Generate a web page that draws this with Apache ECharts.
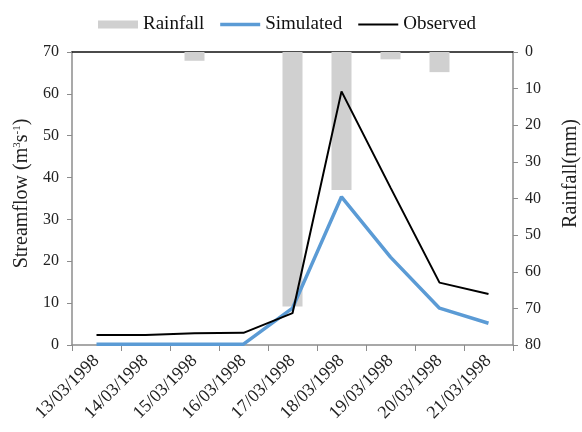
<!DOCTYPE html>
<html>
<head>
<meta charset="UTF-8">
<title>Streamflow</title>
<script src="https://cdn.jsdelivr.net/npm/echarts@6/dist/echarts.min.js"></script>
<style>html,body{margin:0;padding:0;background:#fff}</style>
</head>
<body>
<div id="main" style="width:582px;height:432px"></div>
<script type="text/javascript">
var dates = ['13/03/1998','14/03/1998','15/03/1998','16/03/1998','17/03/1998','18/03/1998','19/03/1998','20/03/1998','21/03/1998'];
var rainfall = [0, 0, 2.4, 0, 69.5, 37.7, 2.0, 5.5, 0];
var simulated = [0.2, 0.2, 0.2, 0.2, 8.8, 35.4, 21.0, 8.8, 5.2];
var observed = [2.4, 2.4, 2.8, 2.9, 7.6, 60.6, 37.6, 14.9, 12.2];

var font = '"Liberation Serif", "Times New Roman", serif';
var grey = '#8c8c8c';

var option = {
    backgroundColor: '#fff',
    textStyle: { fontFamily: font },
    legend: {
        top: 10,
        left: 93,
        itemWidth: 40,
        itemHeight: 8,
        itemGap: 16,
        textStyle: { fontFamily: font, fontSize: 19, color: '#111' },
        data: [
            { name: 'Rainfall', icon: 'rect' },
            // thin bar icons so the line entries show no marker dot
            { name: 'Simulated', icon: 'path://M0,0L40,0L40,3.5L0,3.5Z', itemStyle: { color: '#5b9bd5' } },
            { name: 'Observed', icon: 'path://M0,0L40,0L40,2L0,2Z', itemStyle: { color: '#000' } }
        ]
    },
    grid: { left: 72, right: 69, top: 52, bottom: 87, outerBoundsMode: 'none' },
    xAxis: [
        {
            type: 'category',
            data: dates,
            boundaryGap: true,
            axisLine: { lineStyle: { color: grey, width: 1.5 } },
            axisTick: { show: true, length: 6, lineStyle: { color: grey } },
            axisLabel: { rotate: 45, fontFamily: font, fontSize: 18, color: '#222', margin: 13, interval: 0 }
        },
        {
            type: 'category',
            data: dates,
            position: 'top',
            axisLine: { lineStyle: { color: '#111', width: 1.5 } },
            axisTick: { show: false },
            axisLabel: { show: false }
        }
    ],
    yAxis: [
        {
            type: 'value',
            min: 0, max: 70, interval: 10,
            name: 'Streamflow (m{sup|3}s{sup|-1})',
            nameLocation: 'middle',
            nameGap: 38,
            nameRotate: 90,
            nameTextStyle: {
                fontFamily: font, fontSize: 20, color: '#222',
                padding: [0, 0, 0, 10],
                rich: { sup: { fontFamily: font, fontSize: 11, verticalAlign: 'top', color: '#222' } }
            },
            splitLine: { show: false },
            axisLine: { show: true, lineStyle: { color: grey, width: 1.5 } },
            axisTick: { show: true, length: 5, lineStyle: { color: grey } },
            axisLabel: { fontFamily: font, fontSize: 16, color: '#222', margin: 13 }
        },
        {
            type: 'value',
            min: 0, max: 80, interval: 10,
            inverse: true,
            position: 'right',
            name: 'Rainfall(mm)',
            nameLocation: 'middle',
            nameGap: 48,
            nameRotate: 90,
            nameTextStyle: { fontFamily: font, fontSize: 20, color: '#222', padding: [0, 0, 0, 50] },
            splitLine: { show: false },
            axisLine: { show: true, lineStyle: { color: grey, width: 1.5 } },
            axisTick: { show: true, length: 5, lineStyle: { color: grey } },
            axisLabel: { fontFamily: font, fontSize: 16, color: '#222', margin: 12 }
        }
    ],
    series: [
        {
            name: 'Rainfall',
            type: 'bar',
            yAxisIndex: 1,
            barWidth: 20,
            itemStyle: { color: '#d0d0d0' },
            data: rainfall
        },
        {
            name: 'Simulated',
            type: 'line',
            symbol: 'none',
            lineStyle: { color: '#5b9bd5', width: 3.5 },
            itemStyle: { color: '#5b9bd5' },
            data: simulated
        },
        {
            name: 'Observed',
            type: 'line',
            symbol: 'none',
            lineStyle: { color: '#000', width: 2 },
            itemStyle: { color: '#000' },
            data: observed
        }
    ]
};

var myChart = echarts.init(document.getElementById('main'));
myChart.setOption(option);
</script>
</body>
</html>
